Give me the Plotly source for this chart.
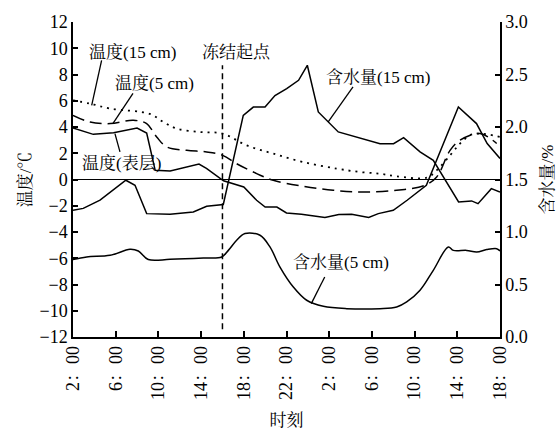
import plotly.graph_objects as go

# hours since 2:00 on day 1
tick_hours = [0, 4, 8, 12, 16, 20, 24, 28, 32, 36, 40]
tick_labels = ["2：00", "6：00", "10：00", "14：00", "18：00", "22：00",
               "2：00", "6：00", "10：00", "14：00", "18：00"]

# Temperature, surface (°C)
ts_h = [0, 1.9, 3.8, 6.0, 6.9, 7.7, 9.1, 11.8, 12.5, 14.1, 16.0, 17.2, 18.0, 19.1, 20.0,
        21.4, 23.6, 24.9, 26.1, 27.7, 28.6, 30.0, 31.3, 33.1, 36.1, 37.8, 38.8, 40]
ts_v = [3.92, 3.44, 3.57, 3.92, 3.54, 0.7, 0.65, 1.18, 0.84, -0.1, -0.57, -1.58, -2.1, -2.1, -2.55,
        -2.65, -2.9, -2.67, -2.65, -2.9, -2.6, -2.35, -1.58, -0.44, 5.52, 4.26, 2.74, 1.6]

# Temperature, 5 cm (°C)
t5_h = [0, 1.6, 3.5, 5.65, 6.9, 7.84, 8.78, 10.65, 12.52, 14.02, 15.33, 16.89, 18.76, 21.57,
        24.38, 27.19, 30.32, 32.97, 34.07, 35.32, 36.25, 38.13, 39.69]
t5_v = [4.89, 4.38, 4.26, 4.51, 4.26, 3.24, 2.48, 2.22, 2.1, 1.84, 1.2, 0.57, -0.06, -0.52,
        -0.82, -0.95, -0.82, -0.44, 0.19, 2.22, 2.99, 3.5, 2.74]

# Temperature, 15 cm (°C)
t15_h = [0, 1.6, 3.5, 7.2, 8.46, 9.71, 11.9, 14.02, 16.27, 18.76, 21.57, 24.7, 26.89, 28.76,
         30.32, 33.13, 34.07, 35.32, 36.25, 37.19, 38.13, 40]
t15_v = [6.03, 5.78, 5.4, 5.0, 4.38, 3.88, 3.62, 3.5, 2.6, 1.97, 1.33, 0.83, 0.57, 0.44,
         0.24, 0.14, 0.7, 1.84, 2.73, 3.37, 3.5, 3.24]

# Water content, 15 cm (%)
m15_h = [0, 0.96, 2.53, 3.93, 4.95, 5.81, 6.9, 9.09, 11.27, 12.52, 13.93, 14.08, 15.95, 16.89,
         17.99, 18.92, 20.02, 21.13, 21.95, 22.98, 24.85, 26.58, 28.76, 30.03, 30.97, 32.51,
         33.75, 36.12, 37.34, 37.94, 39.19, 40]
m15_v = [1.206, 1.225, 1.303, 1.413, 1.493, 1.445, 1.175, 1.169, 1.191, 1.245, 1.254, 1.262,
         2.111, 2.19, 2.19, 2.30, 2.366, 2.445, 2.588, 2.143, 1.953, 1.905, 1.841, 1.841,
         1.899, 1.763, 1.683, 1.286, 1.296, 1.27, 1.413, 1.381]

# Water content, 5 cm (%)
m5_h = [0, 1.28, 3.47, 5.34, 6.12, 7.05, 9.09, 12.21, 13.93, 14.55, 15.33, 16.11, 17.52,
        18.45, 19.39, 20.64, 21.89, 23.45, 25.64, 28.76, 30.32, 31.26, 32.51, 33.75, 35.16,
        35.63, 36.88, 37.82, 38.75, 39.69, 40]
m5_v = [0.7375, 0.7625, 0.7775, 0.835, 0.819, 0.7375, 0.74, 0.7525, 0.7625, 0.825, 0.921,
        0.985, 0.969, 0.8575, 0.666, 0.476, 0.35, 0.2925, 0.27, 0.27, 0.286, 0.334, 0.445,
        0.635, 0.8575, 0.825, 0.825, 0.81, 0.8325, 0.841, 0.82]

freeze_hour = 14.0

FONT = "Liberation Serif, Noto Serif CJK SC, Noto Sans CJK SC, serif"
BLACK = "#000000"

fig = go.Figure()
fig.add_trace(go.Scatter(x=ts_h, y=ts_v, mode="lines",
                         line=dict(color=BLACK, width=1.5)))
fig.add_trace(go.Scatter(x=t5_h, y=t5_v, mode="lines", line_shape="spline",
                         line=dict(color=BLACK, width=1.5, dash="12px,6px")))
fig.add_trace(go.Scatter(x=t15_h, y=t15_v, mode="lines", line_shape="spline",
                         line=dict(color=BLACK, width=1.8, dash="2px,5px")))
fig.add_trace(go.Scatter(x=m15_h, y=m15_v, mode="lines", yaxis="y2",
                         line=dict(color=BLACK, width=1.5)))
fig.add_trace(go.Scatter(x=m5_h, y=m5_v, mode="lines", yaxis="y2", line_shape="spline",
                         line=dict(color=BLACK, width=1.5)))

# freeze start vertical dashed line
fig.add_shape(type="line", x0=freeze_hour, x1=freeze_hour, y0=-11.4, y1=8.7,
              xref="x", yref="y", line=dict(color=BLACK, width=1.5, dash="6px,4px"))

# annotations with leader lines
labels = [
    ("温度(15 cm)", 5.57, 9.69, (2.68, 9.08, 1.75, 5.65)),
    ("冻结起点", 15.3, 9.69, None),
    ("温度(5 cm)", 7.59, 7.33, (5.62, 6.57, 3.75, 4.28)),
    ("温度(表层)", 4.54, 1.23, (3.93, 3.5, 4.40, 2.1)),
    ("含水量(15 cm)", 28.57, 7.79, (26.23, 7.05, 23.89, 4.38)),
    ("含水量(5 cm)", 25.1, -6.31, (23.58, -7.43, 22.32, -9.46)),
]
for text, ax_, ay_, leader in labels:
    fig.add_annotation(x=ax_, y=ay_, xref="x", yref="y", text=text, showarrow=False,
                       font=dict(family=FONT, size=17, color=BLACK))
    if leader:
        x0, y0, x1, y1 = leader
        fig.add_shape(type="line", x0=x0, y0=y0, x1=x1, y1=y1, xref="x", yref="y",
                      line=dict(color=BLACK, width=1.3))

axis_common = dict(showgrid=False, showline=True, linecolor=BLACK, linewidth=1.5,
                   ticks="inside", tickcolor=BLACK, tickwidth=1.5, automargin=False,
                   tickfont=dict(family=FONT, size=18, color=BLACK))

fig.update_layout(
    width=558, height=430,
    margin=dict(l=73, r=58, t=22, b=93),
    paper_bgcolor="white", plot_bgcolor="white",
    showlegend=False,
    font=dict(family=FONT, color=BLACK),
    xaxis=dict(range=[0, 40], tickvals=tick_hours, ticktext=tick_labels, tickangle=-90,
               ticklen=6, zeroline=False,
               title=dict(text="时刻", font=dict(family=FONT, size=17, color=BLACK), standoff=22),
               **axis_common),
    yaxis=dict(range=[-12, 12], dtick=2, tick0=0, ticklen=5,
               zeroline=True, zerolinecolor=BLACK, zerolinewidth=1.3,
               title=dict(text="温度/℃", font=dict(family=FONT, size=17, color=BLACK), standoff=4),
               **axis_common),
    yaxis2=dict(range=[0, 3], dtick=0.5, tick0=0, tickformat=".1f", ticklen=5,
                overlaying="y", side="right", zeroline=False,
                title=dict(text="含水量/%", font=dict(family=FONT, size=17, color=BLACK), standoff=14),
                **axis_common),
)

fig.write_html("out.html")
